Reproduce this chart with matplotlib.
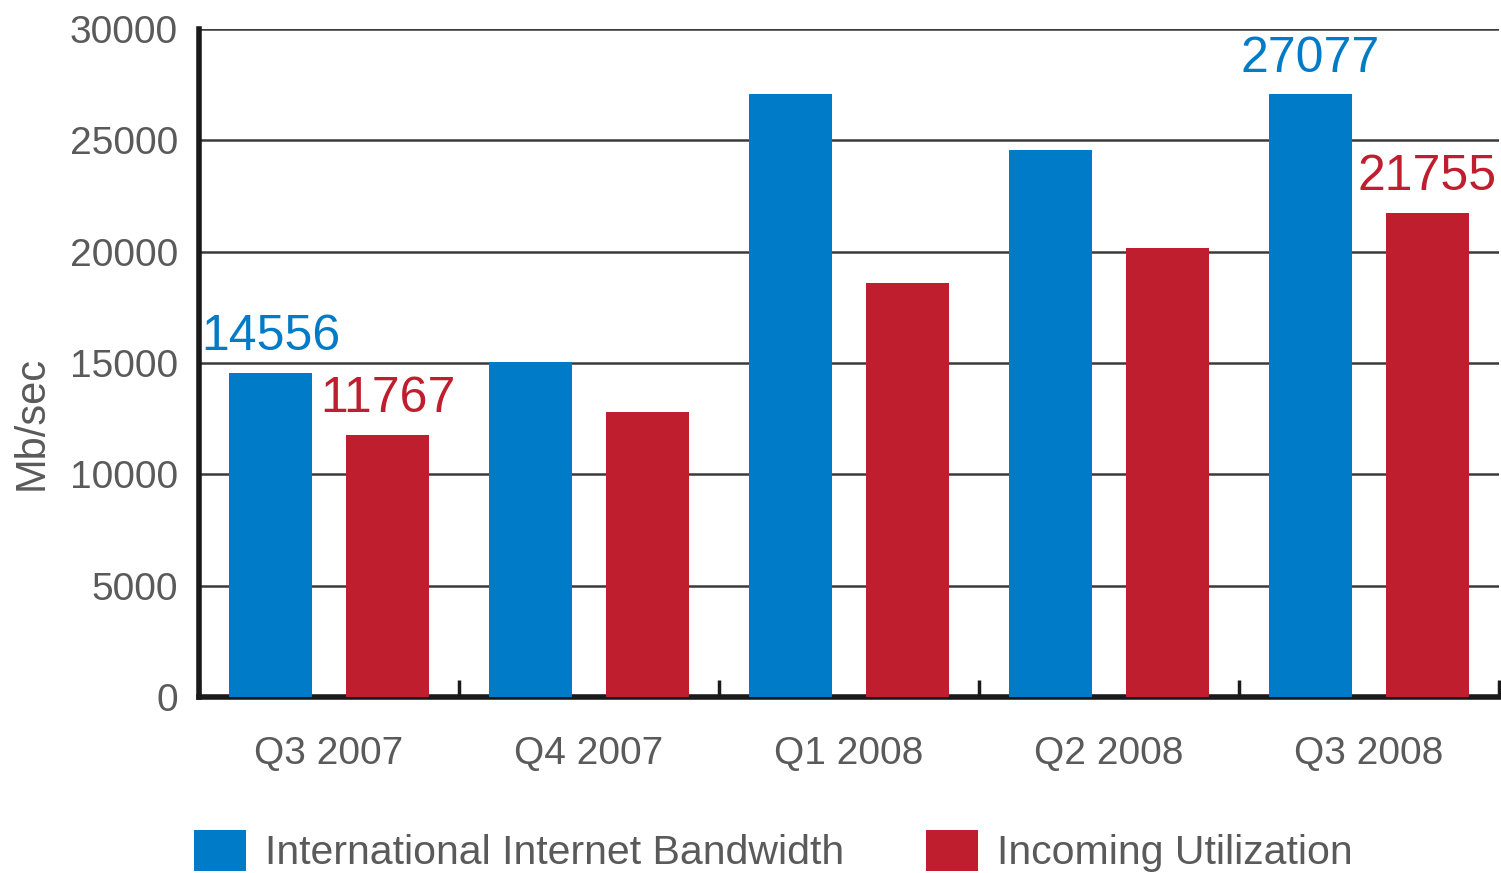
import matplotlib
matplotlib.use("Agg")
import matplotlib.pyplot as plt
import numpy as np

categories = ["Q3 2007", "Q4 2007", "Q1 2008", "Q2 2008", "Q3 2008"]
bandwidth = [14556, 15040, 27077, 24560, 27077]
utilization = [11767, 12800, 18600, 20160, 21755]
series_names = ["International Internet Bandwidth", "Incoming Utilization"]
yticks = [0, 5000, 10000, 15000, 20000, 25000, 30000]
labelled = {0: (14556, 11767), 4: (27077, 21755)}

BLUE = "#007BC7"
RED = "#BE1E2D"
GRAY = "#5a5a5a"

plt.rcParams['font.family'] = ['Liberation Sans', 'DejaVu Sans']

fig = plt.figure(figsize=(15.01, 8.73), dpi=100)
ax = fig.add_axes([199/1501, 1-697/873, 1300/1501, (697-29)/873])

x = np.arange(len(categories))
off = 0.225
w = 0.32
bars_b = ax.bar(x - off, bandwidth, width=w, color=BLUE, zorder=3, label=series_names[0])
bars_r = ax.bar(x + off, utilization, width=w, color=RED, zorder=3, label=series_names[1])

ax.set_xlim(-0.5, len(categories) - 0.5)
ax.set_ylim(0, 30000)
ax.set_yticks(yticks)
ax.set_yticklabels([str(t) for t in yticks], fontsize=28, color=GRAY)
ax.yaxis.grid(True, color="#3a3a3a", linewidth=1.8, zorder=0)
ax.set_axisbelow(True)

ax.set_xticks(x)
ax.set_xticklabels(categories, fontsize=28, color=GRAY)
ax.tick_params(axis='x', which='major', length=0, pad=28)
ax.set_xticks(np.arange(len(categories) + 1) - 0.5, minor=True)
ax.tick_params(axis='x', which='minor', direction='in', length=12, width=2.5, color="#1a1a1a")
ax.tick_params(axis='y', length=0, pad=15)

for s in ['top', 'right']:
    ax.spines[s].set_visible(False)
ax.spines['left'].set_linewidth(4)
ax.spines['bottom'].set_linewidth(4)
ax.spines['left'].set_color("#1a1a1a")
ax.spines['bottom'].set_color("#1a1a1a")

ax.set_ylabel("Mb/sec", fontsize=30, color=GRAY)
ax.yaxis.set_label_coords(-0.113, 0.41)

for i, (vb, vr) in labelled.items():
    ax.annotate(str(vb), (i - off, vb), xytext=(0, 9), textcoords='offset points',
                ha='center', va='bottom', fontsize=36, color=BLUE)
    ax.annotate(str(vr), (i + off, vr), xytext=(0, 9), textcoords='offset points',
                ha='center', va='bottom', fontsize=36, color=RED)

leg = fig.legend(handles=[bars_b, bars_r], labels=series_names, loc='lower left',
                 bbox_to_anchor=(178/1501, -0.018), ncol=2, frameon=False,
                 fontsize=29.5, handlelength=1.25, handleheight=1.15,
                 handletextpad=0.48, columnspacing=2.0, borderaxespad=0)
for t in leg.get_texts():
    t.set_color(GRAY)

fig.savefig("out.png", dpi=100)
